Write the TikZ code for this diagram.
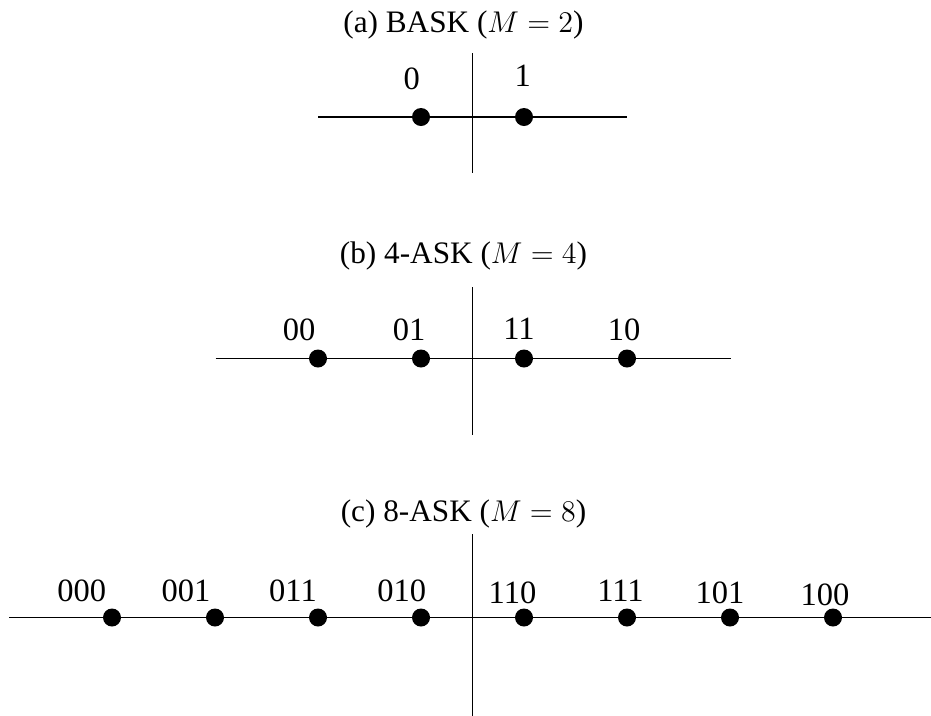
\documentclass[tikz,border=0pt]{standalone}
\usepackage{fontspec}
\setmainfont{Liberation Serif}
\begin{document}
\begin{tikzpicture}[x=0.4pt,y=-0.4pt,
  dot/.style={circle,fill=black,inner sep=0pt,minimum size=7.2pt},
  lbl/.style={anchor=base,inner sep=0pt,font=\fontsize{13}{15}\selectfont},
  ttl/.style={anchor=base,inner sep=0pt,font=\fontsize{12.5}{15}\selectfont},
  axis/.style={line width=0.55pt,black}]
\useasboundingbox (0,0) rectangle (931,715);
% (a)
\node[ttl] (ta) at (463.5,32) {(a) BASK ($M=2$)};
\coordinate (aL) at (318,117); \coordinate (aR) at (627,117);
\coordinate (aT) at (472.5,53); \coordinate (aB) at (472.5,173);
\draw[axis] (aL) -- (aR);
\draw[axis] (aT) -- (aB);
\node[dot] (a0) at (421,117) {};
\node[dot] (a1) at (524,117) {};
\node[lbl] (la0) at (411.7,89) {0};
\node[lbl] (la1) at (522.7,86) {1};
% (b)
\node[ttl] (tb) at (463.5,263) {(b) 4-ASK ($M=4$)};
\coordinate (bL) at (215.5,358.5); \coordinate (bR) at (730.5,358.5);
\coordinate (bT) at (472.5,287); \coordinate (bB) at (472.5,435);
\draw[axis] (bL) -- (bR);
\draw[axis] (bT) -- (bB);
\node[dot] (b0) at (318,358.5) {};
\node[dot] (b1) at (421,358.5) {};
\node[dot] (b2) at (524,358.5) {};
\node[dot] (b3) at (627,358.5) {};
\node[lbl] (lb0) at (299,340) {00};
\node[lbl] (lb1) at (409,340.7) {01};
\node[lbl] (lb2) at (519,339) {11};
\node[lbl] (lb3) at (624,340.7) {10};
% (c)
\node[ttl] (tc) at (463.5,521) {(c) 8-ASK ($M=8$)};
\coordinate (cL) at (9,617.5); \coordinate (cR) at (936,617.5);
\coordinate (cT) at (472.5,534); \coordinate (cB) at (472.5,720);
\draw[axis] (cL) -- (cR);
\draw[axis] (cT) -- (cB);
\node[dot] (c0) at (112,617.5) {};
\node[dot] (c1) at (215,617.5) {};
\node[dot] (c2) at (318,617.5) {};
\node[dot] (c3) at (421,617.5) {};
\node[dot] (c4) at (524,617.5) {};
\node[dot] (c5) at (627,617.5) {};
\node[dot] (c6) at (730,617.5) {};
\node[dot] (c7) at (833,617.5) {};
\node[lbl] (lc0) at (81.7,601.7) {000};
\node[lbl] (lc1) at (186,601.7) {001};
\node[lbl] (lc2) at (293,601.7) {011};
\node[lbl] (lc3) at (401.7,601.7) {010};
\node[lbl] (lc4) at (512.5,603.3) {110};
\node[lbl] (lc5) at (620.5,601) {111};
\node[lbl] (lc6) at (720,603.3) {101};
\node[lbl] (lc7) at (825,605.7) {100};
\end{tikzpicture}
\end{document}
